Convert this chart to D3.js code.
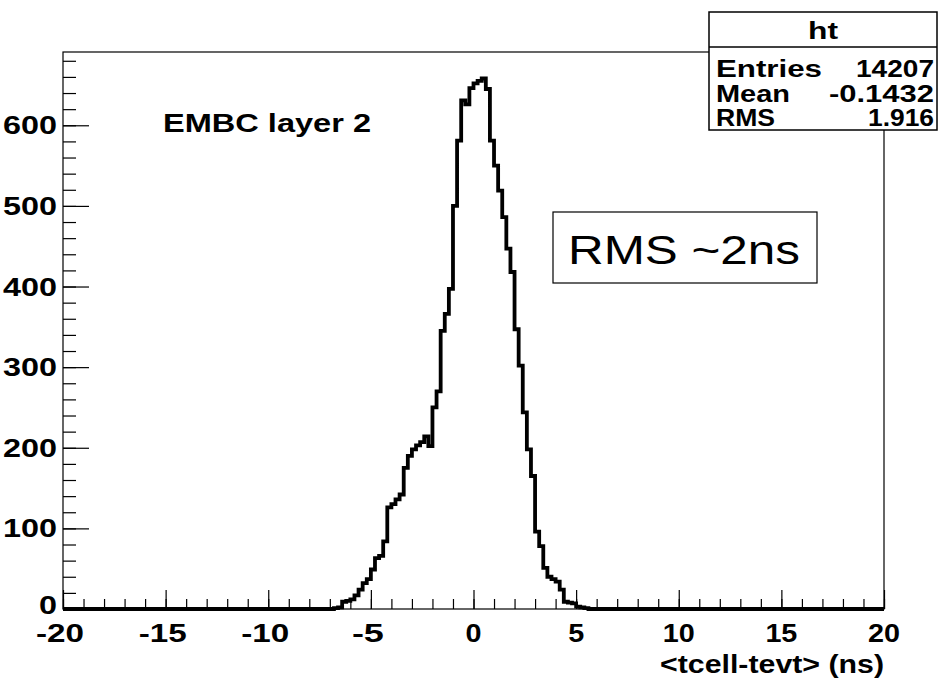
<!DOCTYPE html>
<html>
<head>
<meta charset="utf-8">
<script src="https://cdn.jsdelivr.net/npm/d3@7/dist/d3.min.js"></script>
<style>
  html, body { margin: 0; padding: 0; background: #fff; }
  svg { display: block; }
  text { font-family: "Liberation Sans", Arial, Helvetica, sans-serif; fill: #000; }
</style>
</head>
<body>
<svg id="chart" width="945" height="681"></svg>
<script>
// ---- data ----
const xRange = [-20, 20];
const binWidth = 0.2;
const firstFilledBin = -6.8;          // lower edge of the first non-empty bin
const counts = [
  1, 2, 9, 10, 12, 17, 24, 32, 37, 49,
  63, 66, 84, 126, 130, 136, 142, 175, 190, 198,
  203, 207, 214, 202, 250, 270, 345, 366, 397, 500,
  581, 631, 626, 646, 652, 655, 658, 645, 581, 550,
  519, 486, 447, 418, 347, 302, 244, 198, 165, 96,
  78, 51, 40, 37, 34, 24, 9, 8, 7, 3,
  2, 1
];
const xMajorTicks = [-20, -15, -10, -5, 0, 5, 10, 15, 20];
const yMajorTicks = [0, 100, 200, 300, 400, 500, 600];
const statsTitle = "ht";
const statsLabels = ["Entries", "Mean", "RMS"];
const statsValues = ["14207", "-0.1432", "1.916"];
const plotLabel = "EMBC layer 2";
const xTitle = "<tcell-tevt> (ns)";
const noteText = "RMS ~2ns";

// ---- layout ----
const L = 63, R = 884, T = 52, B = 609;
const svg = d3.select("#chart");
const nBins = Math.round((xRange[1] - xRange[0]) / binWidth);
const full = new Array(nBins).fill(0);
const off = Math.round((firstFilledBin - xRange[0]) / binWidth);
counts.forEach((c, i) => { full[off + i] = c; });

const yMax = 1.05 * d3.max(counts);
const x = d3.scaleLinear().domain(xRange).range([L, R]);
const y = d3.scaleLinear().domain([0, yMax]).range([B, T]);

// frame
svg.append("rect").attr("x", L).attr("y", T).attr("width", R - L).attr("height", B - T)
  .attr("fill", "none").attr("stroke", "#000").attr("stroke-width", 1.2);

// x ticks (drawn upward from the bottom)
const xMinor = d3.range(xRange[0], xRange[1] + 0.001, 1);
const gx = svg.append("g").attr("transform", `translate(0,${B})`);
gx.call(d3.axisTop(x).tickValues(xMinor).tickSize(10).tickFormat(""));
gx.append("g").call(d3.axisTop(x).tickValues(xMajorTicks).tickSize(19).tickFormat(""));
gx.selectAll(".domain").remove();
gx.selectAll("line").attr("stroke", "#000").attr("stroke-width", 1.2);

// y ticks (drawn rightward from the left)
const yMinor = d3.range(0, yMax, 20);
const gy = svg.append("g").attr("transform", `translate(${L},0)`);
gy.call(d3.axisLeft(y).tickValues(yMinor).tickSize(-13).tickFormat(""));
gy.append("g").call(d3.axisLeft(y).tickValues(yMajorTicks).tickSize(-26).tickFormat(""));
gy.selectAll(".domain").remove();
gy.selectAll("line").attr("stroke", "#000").attr("stroke-width", 1.2);

// tick labels
svg.append("g").selectAll("text").data(yMajorTicks).join("text")
  .attr("x", 57).attr("y", d => y(d) + (d === 0 ? 5 : 9))
  .attr("text-anchor", "end")
  .attr("font-weight", "bold").attr("font-size", 25)
  .attr("textLength", d => String(d).length * 18).attr("lengthAdjust", "spacingAndGlyphs")
  .text(d => d);

svg.append("g").selectAll("text").data(xMajorTicks).join("text")
  .attr("x", d => x(d) + (d < 0 ? -3 : 0)).attr("y", 642)
  .attr("text-anchor", "middle")
  .attr("font-weight", "bold").attr("font-size", 25)
  .attr("textLength", d => String(d).length * 16).attr("lengthAdjust", "spacingAndGlyphs")
  .text(d => d);

// histogram outline
const pts = [[xRange[0], 0]];
full.forEach((c, i) => {
  const lo = xRange[0] + i * binWidth, hi = lo + binWidth;
  pts.push([lo, c], [hi, c]);
});
pts.push([xRange[1], 0]);
svg.append("path")
  .attr("d", d3.line().x(d => x(d[0])).y(d => y(d[1]))(pts))
  .attr("fill", "none").attr("stroke", "#000").attr("stroke-width", 3.8)
  .attr("stroke-linejoin", "miter");

// labels
svg.append("text").attr("x", 163).attr("y", 132)
  .attr("font-weight", "bold").attr("font-size", 25)
  .attr("textLength", 208).attr("lengthAdjust", "spacingAndGlyphs")
  .text(plotLabel);

svg.append("text").attr("x", 884).attr("y", 673).attr("text-anchor", "end")
  .attr("font-weight", "bold").attr("font-size", 25)
  .attr("textLength", 224).attr("lengthAdjust", "spacingAndGlyphs")
  .text(xTitle);

// note box
svg.append("rect").attr("x", 553).attr("y", 212).attr("width", 264).attr("height", 71)
  .attr("fill", "#fff").attr("stroke", "#000").attr("stroke-width", 1.2);
svg.append("text").attr("x", 568).attr("y", 264)
  .attr("font-size", 41)
  .attr("textLength", 232).attr("lengthAdjust", "spacingAndGlyphs")
  .text(noteText);

// stats box
const sb = { x: 709, y: 12, w: 228, h: 118, sep: 47 };
svg.append("rect").attr("x", sb.x).attr("y", sb.y).attr("width", sb.w).attr("height", sb.h)
  .attr("fill", "#fff").attr("stroke", "#000").attr("stroke-width", 1.5);
svg.append("line").attr("x1", sb.x).attr("x2", sb.x + sb.w).attr("y1", sb.sep).attr("y2", sb.sep)
  .attr("stroke", "#000").attr("stroke-width", 1.5);
svg.append("text").attr("x", sb.x + sb.w / 2).attr("y", 39).attr("text-anchor", "middle")
  .attr("font-weight", "bold").attr("font-size", 24)
  .attr("textLength", 30).attr("lengthAdjust", "spacingAndGlyphs")
  .text(statsTitle);
const rowY = [77, 102, 126];
const labelW = [106, 74, 59];
const valueW = [78, 105, 66];
statsLabels.forEach((lab, i) => {
  svg.append("text").attr("x", 716).attr("y", rowY[i])
    .attr("font-weight", "bold").attr("font-size", 23)
    .attr("textLength", labelW[i]).attr("lengthAdjust", "spacingAndGlyphs")
    .text(lab);
  svg.append("text").attr("x", 934).attr("y", rowY[i]).attr("text-anchor", "end")
    .attr("font-weight", "bold").attr("font-size", 23)
    .attr("textLength", valueW[i]).attr("lengthAdjust", "spacingAndGlyphs")
    .text(statsValues[i]);
});
</script>
</body>
</html>
